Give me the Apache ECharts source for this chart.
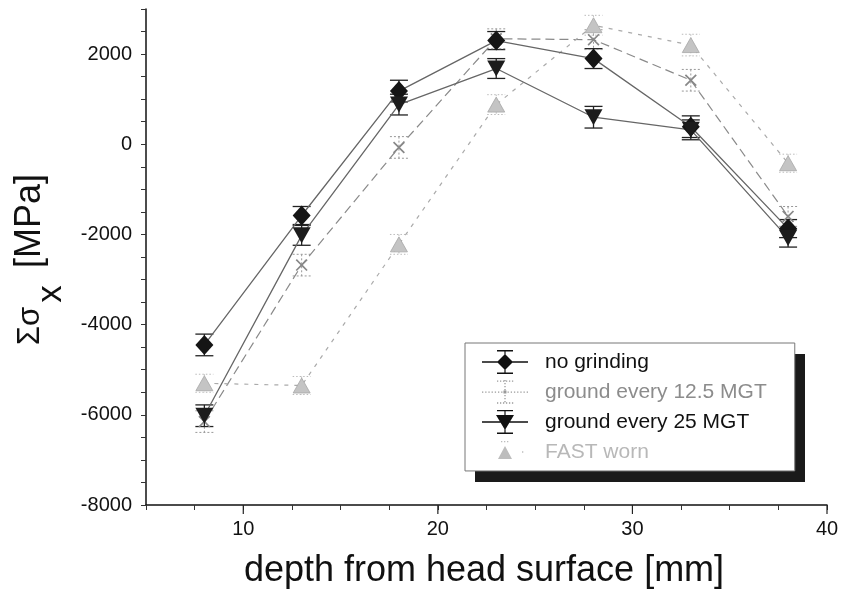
<!DOCTYPE html>
<html>
<head>
    <meta charset="UTF-8">
    <title>index.html</title>
    <script src="https://cdn.jsdelivr.net/npm/echarts@6.0.0/dist/echarts.min.js"></script>
    <style>
        body { margin: 0; background: #fff; }
        #chart { width: 845px; height: 594px; }
    </style>
</head>
<body>
<div id="chart"></div>
<script>
    // depth in mm
    var depth = [8, 13, 18, 23, 28, 33, 38];
    // stress sum, MPa
    var noGrinding = [-4450, -1580, 1180, 2300, 1900, 390, -1870];
    var noGrindingErr = [240, 200, 240, 200, 220, 240, 200];
    var ground12 = [-6150, -2680, -70, 2340, 2320, 1420, -1600];
    var ground12Err = [240, 240, 240, 220, 220, 240, 220];
    var ground25 = [-6020, -2020, 880, 1680, 600, 320, -2080];
    var ground25Err = [240, 220, 230, 220, 240, 220, 200];
    var fastWorn = [-5300, -5350, -2220, 880, 2640, 2200, -420];
    var fastWornErr = [200, 200, 220, 220, 220, 240, 200];
    var xTickLabels = [10, 20, 30, 40];
    var yTickLabels = [-8000, -6000, -4000, -2000, 0, 2000];

    var FONT = '"Liberation Sans", Arial, sans-serif';

    function pts(vals) {
        return depth.map(function (d, i) { return [d, vals[i]]; });
    }

    function errorBars(vals, errs, color, dash, width) {
        return {
            type: 'custom',
            silent: true,
            z: 1,
            data: depth.map(function (d, i) { return [d, vals[i], errs[i]]; }),
            renderItem: function (params, api) {
                var x = api.value(0), y = api.value(1), e = api.value(2);
                var hi = api.coord([x, y + e]), lo = api.coord([x, y - e]);
                var style = {stroke: color, lineWidth: width, lineDash: dash};
                return {
                    type: 'group', children: [
                        {type: 'line', shape: {x1: hi[0], y1: hi[1], x2: lo[0], y2: lo[1]}, style: style},
                        {type: 'line', shape: {x1: hi[0] - 9, y1: hi[1], x2: hi[0] + 9, y2: hi[1]}, style: style},
                        {type: 'line', shape: {x1: lo[0] - 9, y1: lo[1], x2: lo[0] + 9, y2: lo[1]}, style: style}
                    ]
                };
            }
        };
    }

    // legend icons (46 x 24 box)
    function rect(x, y, w, h) {
        return 'M' + x + ',' + y + 'L' + (x + w) + ',' + y + 'L' + (x + w) + ',' + (y + h) + 'L' + x + ',' + (y + h) + 'Z';
    }
    function hdots(x0, x1, y, step) {
        var s = '';
        for (var x = x0; x < x1; x += step) s += rect(x, y, 1.3, 1.3);
        return s;
    }
    function vdots(x, y0, y1, step) {
        var s = '';
        for (var y = y0; y < y1; y += step) s += rect(x, y, 1.3, 1.3);
        return s;
    }
    var corners = rect(0, 0, 0.01, 0.01) + rect(45.99, 23.99, 0.01, 0.01);
    var iconNoGrind = 'path://' + corners + rect(0, 11.3, 46, 1.4) + rect(15, 0, 16, 1.4) + rect(15, 22.6, 16, 1.4)
        + rect(22.4, 0, 1.2, 24) + 'M23,4L31,12L23,20L15,12Z';
    var icon25 = 'path://' + corners + rect(0, 11.3, 46, 1.4) + rect(15, 0, 16, 1.4) + rect(15, 22.6, 16, 1.4)
        + rect(22.4, 0, 1.2, 24) + 'M14,5L32,5L23,20Z';
    var icon12 = 'path://' + corners + hdots(0, 46, 11.4, 3.2) + hdots(15, 31, 0.5, 3) + hdots(15, 31, 22.4, 3)
        + vdots(22.4, 0, 24, 3) + rect(21.5, 10.5, 3, 3);
    var iconFast = 'path://' + corners + 'M16,19L23,6L30,19Z' + rect(40, 11.4, 1.3, 1.3) + hdots(19, 28, 1, 3);

    var chart = echarts.init(document.getElementById('chart'));
    var option = {
        animation: false,
        backgroundColor: '#fff',
        grid: {left: 146, top: 9, right: 18, bottom: 89},
        xAxis: {
            type: 'value', min: 5, max: 40, interval: 2.5,
            axisLine: {onZero: false, lineStyle: {color: '#111', width: 1.5}},
            axisTick: {length: 5, lineStyle: {color: '#333', width: 1}},
            splitLine: {show: false},
            axisLabel: {
                margin: 14, fontSize: 20, color: '#111', fontFamily: FONT,
                formatter: function (v) { return xTickLabels.indexOf(v) >= 0 ? String(v) : ''; }
            }
        },
        yAxis: {
            type: 'value', min: -8000, max: 3000, interval: 500,
            axisLine: {show: true, lineStyle: {color: '#111', width: 1.5}},
            axisTick: {show: true, length: 5, lineStyle: {color: '#333', width: 1}},
            splitLine: {show: false},
            axisLabel: {
                margin: 14, fontSize: 20, color: '#111', fontFamily: FONT,
                formatter: function (v) { return yTickLabels.indexOf(v) >= 0 ? String(v) : ''; }
            }
        },
        legend: {
            orient: 'vertical', left: 465, top: 343, z: 5,
            itemWidth: 46, itemHeight: 24, itemGap: 6,
            padding: [7, 28, 7, 17],
            backgroundColor: '#fff', borderColor: '#777', borderWidth: 1,
            selectedMode: false,
            textStyle: {fontSize: 21, fontFamily: FONT, padding: [0, 0, 0, 12]},
            data: [
                {name: 'no grinding', icon: iconNoGrind, itemStyle: {color: '#111', borderWidth: 0}, textStyle: {color: '#111'}},
                {name: 'ground every 12.5 MGT', icon: icon12, itemStyle: {color: '#9a9a9a', borderWidth: 0}, textStyle: {color: '#8c8c8c'}},
                {name: 'ground every 25 MGT', icon: icon25, itemStyle: {color: '#111', borderWidth: 0}, textStyle: {color: '#111'}},
                {name: 'FAST worn', icon: iconFast, itemStyle: {color: '#bdbdbd', borderWidth: 0}, textStyle: {color: '#b8b8b8'}}
            ]
        },
        graphic: [
            // hard drop shadow behind the legend box
            {type: 'rect', z: 4, shape: {x: 475, y: 354, width: 330, height: 128}, style: {fill: '#1a1a1a'}},
            {type: 'text', x: 484, y: 571, style: {text: 'depth from head surface [mm]', font: '36px ' + FONT, fill: '#111',
                    align: 'center', verticalAlign: 'middle', textAlign: 'center', textVerticalAlign: 'middle'}},
            {type: 'text', x: 30, y: 326, rotation: Math.PI / 2, style: {text: 'Σσ', font: '31px ' + FONT, fill: '#111',
                    align: 'center', verticalAlign: 'middle', textAlign: 'center', textVerticalAlign: 'middle'}},
            {type: 'text', x: 51, y: 294, rotation: Math.PI / 2, style: {text: 'x', font: '35px ' + FONT, fill: '#111',
                    align: 'center', verticalAlign: 'middle', textAlign: 'center', textVerticalAlign: 'middle'}},
            {type: 'text', x: 30, y: 221, rotation: Math.PI / 2, style: {text: '[MPa]', font: '36px ' + FONT, fill: '#111',
                    align: 'center', verticalAlign: 'middle', textAlign: 'center', textVerticalAlign: 'middle'}}
        ],
        series: [
            errorBars(noGrinding, noGrindingErr, '#222', null, 1.3),
            errorBars(ground12, ground12Err, '#999', [2, 2], 1),
            errorBars(ground25, ground25Err, '#222', null, 1.3),
            errorBars(fastWorn, fastWornErr, '#bbb', [1.5, 2], 1),
            {
                name: 'no grinding', type: 'line', data: pts(noGrinding), z: 3,
                symbol: 'diamond', symbolSize: [18, 20],
                lineStyle: {color: '#666', width: 1.3},
                itemStyle: {color: '#151515'}
            },
            {
                name: 'ground every 12.5 MGT', type: 'line', data: pts(ground12), z: 2,
                symbol: 'path://M0,1L1,0L5,4L9,0L10,1L6,5L10,9L9,10L5,6L1,10L0,9L4,5Z', symbolSize: 12,
                lineStyle: {color: '#8a8a8a', width: 1.2, type: [9, 5]},
                itemStyle: {color: '#888'}
            },
            {
                name: 'ground every 25 MGT', type: 'line', data: pts(ground25), z: 3,
                symbol: 'triangle', symbolRotate: 180, symbolSize: [18, 16],
                lineStyle: {color: '#666', width: 1.3},
                itemStyle: {color: '#1c1c1c'}
            },
            {
                name: 'FAST worn', type: 'line', data: pts(fastWorn), z: 2,
                symbol: 'triangle', symbolSize: [17, 15],
                lineStyle: {color: '#aaa', width: 1.2, type: [4, 6]},
                itemStyle: {color: '#c4c4c4', borderColor: '#a8a8a8', borderWidth: 0.8}
            },
            {
                // long ticks at the labelled x values
                type: 'custom', silent: true, clip: false,
                data: xTickLabels.map(function (v) { return [v, -8000]; }),
                renderItem: function (params, api) {
                    var p = api.coord([api.value(0), api.value(1)]);
                    return {type: 'line', shape: {x1: p[0], y1: p[1], x2: p[0], y2: p[1] + 9},
                        style: {stroke: '#222', lineWidth: 1.2}};
                }
            }
        ]
    };
    chart.setOption(option);
</script>
</body>
</html>
